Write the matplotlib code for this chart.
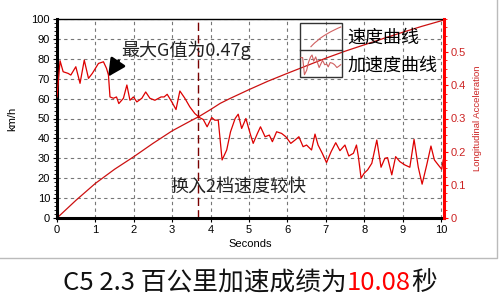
#import libraries
import numpy as np
import matplotlib
matplotlib.use('Agg')
import matplotlib.pyplot as plt
from matplotlib.patches import Rectangle
from matplotlib.lines import Line2D
from matplotlib.legend_handler import HandlerBase
from matplotlib.ticker import MultipleLocator

#speed curve (km/h vs seconds)
speed_t = [0, 0.5, 1, 1.5, 2, 2.5, 3, 3.5, 3.7, 4, 4.25, 4.5, 5, 5.5, 6, 6.5, 7, 7.5, 8, 8.5, 9, 9.5, 10.08]
speed_v = [0, 9, 17.4, 24.5, 30.8, 37.5, 43.8, 49, 51, 54.5, 57.6, 60, 64.5, 68.8, 72.7, 76.5, 80.3, 83.8, 87, 90.2, 93.3, 96.3, 99.5]

#longitudinal acceleration (g vs seconds)
acc_t = [0.0, 0.08, 0.16, 0.29, 0.36, 0.49, 0.60, 0.71, 0.82, 0.92, 1.08, 1.21, 1.29, 1.34, 1.38,
         1.47, 1.55, 1.61, 1.73, 1.82, 1.90, 1.99, 2.08, 2.21, 2.31, 2.42, 2.55, 2.71, 2.79, 2.87,
         2.99, 3.10, 3.20, 3.33, 3.46, 3.59, 3.71, 3.81, 3.91, 4.03, 4.11, 4.20, 4.30, 4.42, 4.52,
         4.64, 4.72, 4.81, 4.92, 5.03, 5.11, 5.22, 5.30, 5.42, 5.53, 5.61, 5.72, 5.85, 5.96, 6.09,
         6.20, 6.30, 6.41, 6.50, 6.63, 6.72, 6.80, 6.91, 7.02, 7.14, 7.26, 7.37, 7.50, 7.60, 7.72,
         7.80, 7.85, 7.92, 8.00, 8.09, 8.20, 8.33, 8.44, 8.54, 8.61, 8.72, 8.82, 8.93, 9.06, 9.19,
         9.30, 9.41, 9.51, 9.63, 9.74, 9.83, 9.93, 10.02, 10.06]
acc_g = [0.365, 0.474, 0.441, 0.436, 0.431, 0.456, 0.406, 0.476, 0.421, 0.436, 0.466, 0.471, 0.451, 0.431, 0.365,
         0.361, 0.365, 0.345, 0.361, 0.401, 0.355, 0.365, 0.350, 0.361, 0.380, 0.361, 0.355, 0.365, 0.365, 0.373,
         0.350, 0.327, 0.383, 0.361, 0.335, 0.315, 0.303, 0.297, 0.275, 0.303, 0.295, 0.295, 0.175, 0.205, 0.260,
         0.300, 0.313, 0.270, 0.300, 0.255, 0.225, 0.255, 0.275, 0.245, 0.250, 0.230, 0.260, 0.255, 0.245, 0.225,
         0.235, 0.245, 0.215, 0.220, 0.205, 0.253, 0.220, 0.195, 0.167, 0.200, 0.227, 0.203, 0.220, 0.187, 0.195,
         0.220, 0.185, 0.120, 0.135, 0.145, 0.165, 0.235, 0.153, 0.180, 0.182, 0.130, 0.185, 0.170, 0.160, 0.153,
         0.237, 0.153, 0.102, 0.160, 0.217, 0.175, 0.160, 0.147, 0.175]

shift_t = 3.68
x_ticks = list(range(0, 11))
speed_ticks = list(range(0, 101, 10))
acc_ticks = [0, 0.1, 0.2, 0.3, 0.4, 0.5]
acc_labels = ['0', '0.1', '0.2', '0.3', '0.4', '0.5']

cjk = ['Noto Sans CJK SC', 'DejaVu Sans']
plt.rcParams['font.family'] = ['Liberation Sans', 'DejaVu Sans']


#legend handle that draws a small piece of the real curve
class MiniCurve(HandlerBase):
    def __init__(self, xs, ys, x0=0.0):
        super().__init__()
        self.xs = np.asarray(xs, float)
        self.ys = np.asarray(ys, float)
        self.x0 = x0

    def create_artists(self, legend, orig_handle, xdescent, ydescent, width, height, fontsize, trans):
        xn = (self.xs - self.xs.min()) / (self.xs.max() - self.xs.min())
        yn = (self.ys - self.ys.min()) / (self.ys.max() - self.ys.min())
        x = -xdescent + width * (self.x0 + (1 - self.x0) * xn)
        y = -ydescent + height * yn
        line = Line2D(x, y, color='#d06060', linewidth=0.8)
        line.set_transform(trans)
        return [line]


fig = plt.figure(figsize=(5, 3), dpi=100)
fig.patch.set_facecolor('white')

#axes area in pixels: x 57..444, y 19..218
ax = fig.add_axes([57/500, 1-218/300, (444-57)/500, (218-19)/300])
ax.set_xlim(0, 10.08)
ax.set_ylim(0, 100)
ax.set_xticks(x_ticks)
ax.set_yticks(speed_ticks)
ax.yaxis.set_minor_locator(MultipleLocator(2))
ax.tick_params(axis='both', labelsize=8, length=3, width=0.8, pad=2)
ax.tick_params(axis='y', which='minor', length=2, width=0.6)
ax.grid(True, color='#777777', linestyle=(0, (3, 3)), linewidth=0.8)
ax.spines['left'].set_linewidth(2.2)
ax.spines['bottom'].set_linewidth(2.2)
ax.spines['top'].set_linewidth(1)
ax.spines['right'].set_visible(False)
ax.set_xlabel('Seconds', fontsize=8, labelpad=3)
ax.set_ylabel('km/h', fontsize=8, labelpad=10)

#speed line
speed_line, = ax.plot(speed_t, speed_v, color='#cc1111', linewidth=0.9)
#gear shift marker
ax.axvline(shift_t, color='#7a0000', linestyle=(0, (6, 3)), linewidth=1)

#acceleration on right axis
ax2 = ax.twinx()
ax2.set_ylim(0, 0.6)
ax2.set_yticks(acc_ticks)
ax2.set_yticklabels(acc_labels)
ax2.yaxis.set_minor_locator(MultipleLocator(0.025))
acc_line, = ax2.plot(acc_t, acc_g, color='#dd0000', linewidth=0.9)
for s in ['left', 'top', 'bottom']:
    ax2.spines[s].set_visible(False)
ax2.spines['right'].set_color('red')
ax2.spines['right'].set_linewidth(2.2)
ax2.tick_params(axis='y', colors='red', labelcolor='#cc2222', labelsize=8, length=3, pad=2)
ax2.tick_params(axis='y', which='minor', colors='red', length=2)
ax2.set_ylabel('Longitudinal Acceleration', color='#cc2222', fontsize=6.8, labelpad=5)

#annotations
ax.annotate('最大G值为0.47g', xy=(1.33, 71), xytext=(1.68, 84.5),
            fontsize=13, family=cjk, color='#222222', va='center', ha='left',
            arrowprops=dict(arrowstyle='-|>,head_length=0.8,head_width=0.4', color='black',
                            lw=2, shrinkA=0, shrinkB=0, relpos=(0, 0.15)))
ax.text(2.95, 15.5, '换入2档速度较快', fontsize=13, family=cjk, color='#222222', va='center', ha='left')

#legend box with two cells
fig.patches.append(Rectangle((300/500, 1-77/300), 42/500, 54/300, transform=fig.transFigure,
                             fill=False, edgecolor='#333333', linewidth=1))
fig.lines.append(Line2D([300/500, 342/500], [1-49.5/300, 1-49.5/300], transform=fig.transFigure,
                        color='#333333', linewidth=1))
fig.legend([speed_line, acc_line], ['速度曲线', '加速度曲线'], loc='upper left',
           bbox_to_anchor=(301/500, 1-27/300), frameon=False,
           prop={'family': cjk, 'size': 13}, handlelength=2.2, handleheight=1.3,
           handletextpad=0.35, labelspacing=0.45, borderpad=0, borderaxespad=0,
           handler_map={speed_line: MiniCurve(speed_t[4:], speed_v[4:], x0=0.25),
                        acc_line: MiniCurve(acc_t[40:62], acc_g[40:62])})

#frame of the chart image
fig.lines.append(Line2D([0, 497/500, 497/500], [1-258/300, 1-258/300, 1], transform=fig.transFigure,
                        color='#bbbbbb', linewidth=1))

#caption, with the time in red
cap_y = 1 - 283/300
t1 = fig.text(63/500, cap_y, 'C5 2.3 百公里加速成绩为', fontsize=18.5, family=cjk,
              ha='left', va='center', color='#111111')
fig.canvas.draw()
bb = t1.get_window_extent()
t2 = fig.text(bb.x1/500, cap_y, '10.08', fontsize=18.5, family=cjk, ha='left', va='center', color='red')
fig.canvas.draw()
bb2 = t2.get_window_extent()
fig.text(bb2.x1/500, cap_y, '秒', fontsize=18.5, family=cjk, ha='left', va='center', color='#111111')

fig.savefig('out.png', dpi=100)
